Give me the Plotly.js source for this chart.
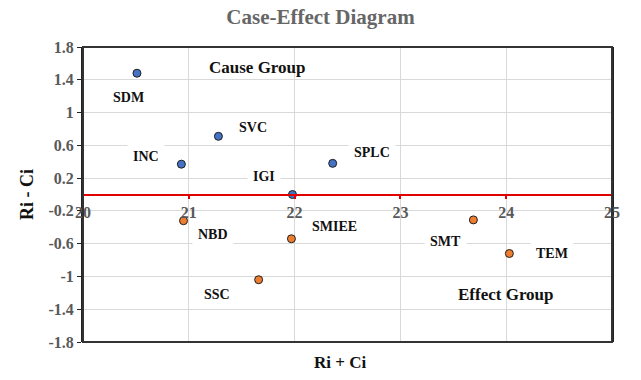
<!DOCTYPE html>
<html>
<head>
<meta charset="utf-8">
<script src="https://cdn.plot.ly/plotly-3.0.1.min.js"></script>
<style>
  html, body {margin: 0; padding: 0; background: #fff;}
  #chart {width: 641px; height: 380px;}
</style>
</head>
<body>
<div id="chart"></div>
<script>
// values
const causeNames = ["SDM", "SVC", "INC", "IGI", "SPLC"];
const causeX = [20.51, 21.28, 20.93, 21.98, 22.36];
const causeY = [1.48, 0.71, 0.37, 0.0, 0.38];

const effectNames = ["NBD", "SMIEE", "SSC", "SMT", "TEM"];
const effectX = [20.95, 21.97, 21.66, 23.69, 24.03];
const effectY = [-0.32, -0.54, -1.04, -0.31, -0.72];

const yTicks = [-1.8, -1.4, -1, -0.6, -0.2, 0.2, 0.6, 1, 1.4, 1.8];
const xTicks = [20, 21, 22, 23, 24, 25];

// label offsets from each point, in pixels [dx, dy]
const labelShift = {
    SDM: [-8, -24], SVC: [35, 9], INC: [-35, 8], IGI: [-28, 18], SPLC: [39, 11],
    NBD: [29, -14], SMIEE: [43, 12], SSC: [-42, -15], SMT: [-28, -22], TEM: [43, 0]
};

const serif = "Liberation Serif";

function make_trace(xs, ys, color){
    return {
        x: xs,
        y: ys,
        type: 'scatter',
        mode: 'markers',
        marker: {size: 8, color: color, line: {color: '#1f1f1f', width: 1}},
        hoverinfo: 'skip',
        cliponaxis: false
    };
}

function make_labels(names, xs, ys){
    return names.map(function(n, i){
        return {
            x: xs[i], y: ys[i], xref: 'x', yref: 'y',
            text: '<b>' + n + '</b>', showarrow: false,
            xshift: labelShift[n][0], yshift: labelShift[n][1],
            font: {family: serif, size: 14, color: '#111'},
            bgcolor: '#ffffff', borderpad: 5
        };
    });
}

function bold(v){ return '<b>' + v + '</b>'; }

const data = [
    make_trace(causeX, causeY, '#4472C4'),
    make_trace(effectX, effectY, '#ED7D31')
];

const groupLabels = [
    {x: 21.65, y: 1.55, xref: 'x', yref: 'y', text: '<b>Cause Group</b>', showarrow: false,
     font: {family: serif, size: 17, color: '#111'}},
    {x: 24.0, y: -1.22, xref: 'x', yref: 'y', text: '<b>Effect Group</b>', showarrow: false,
     font: {family: serif, size: 17, color: '#111'}},
    {text: '<b>Ri + Ci</b>', xref: 'paper', yref: 'paper', x: 0.485, y: -0.068,
     xanchor: 'center', yanchor: 'middle', showarrow: false,
     font: {family: serif, size: 17, color: '#111'}}
];

const layout = {
    width: 641,
    height: 380,
    margin: {l: 83, r: 29, t: 47, b: 38},
    paper_bgcolor: '#fff',
    plot_bgcolor: '#fff',
    showlegend: false,
    title: {
        text: '<b>Case-Effect Diagram</b>',
        font: {family: serif, size: 21, color: '#666'},
        x: 0.5, xanchor: 'center', y: 0.955, yanchor: 'middle'
    },
    xaxis: {
        range: [20, 25],
        tickvals: xTicks,
        ticktext: xTicks.map(bold),
        showgrid: true, gridcolor: '#d9d9d9', gridwidth: 1,
        zeroline: false,
        anchor: 'free', position: 0.5,
        showline: true, linecolor: '#e00000', linewidth: 2,
        ticks: 'outside', ticklen: 3, tickcolor: '#e00000', tickwidth: 2,
        tickfont: {family: serif, size: 16, color: '#595959'},
        fixedrange: true
    },
    yaxis: {
        range: [-1.8, 1.8],
        tickvals: yTicks,
        ticktext: yTicks.map(bold),
        showgrid: true, gridcolor: '#d9d9d9', gridwidth: 1,
        zeroline: false,
        showline: true, linecolor: '#222', linewidth: 2, mirror: true,
        ticks: 'outside', ticklen: 4, tickcolor: '#222',
        tickfont: {family: serif, size: 16, color: '#595959'},
        title: {text: '<b>Ri - Ci</b>', font: {family: serif, size: 18, color: '#111'}, standoff: 10},
        fixedrange: true
    },
    shapes: [{
        type: 'rect', xref: 'paper', yref: 'paper', x0: 0, x1: 1, y0: 0, y1: 1,
        line: {color: '#333', width: 2}, layer: 'above'
    }],
    annotations: make_labels(causeNames, causeX, causeY)
        .concat(make_labels(effectNames, effectX, effectY))
        .concat(groupLabels)
};

Plotly.newPlot('chart', data, layout, {displayModeBar: false, staticPlot: true});
</script>
</body>
</html>
